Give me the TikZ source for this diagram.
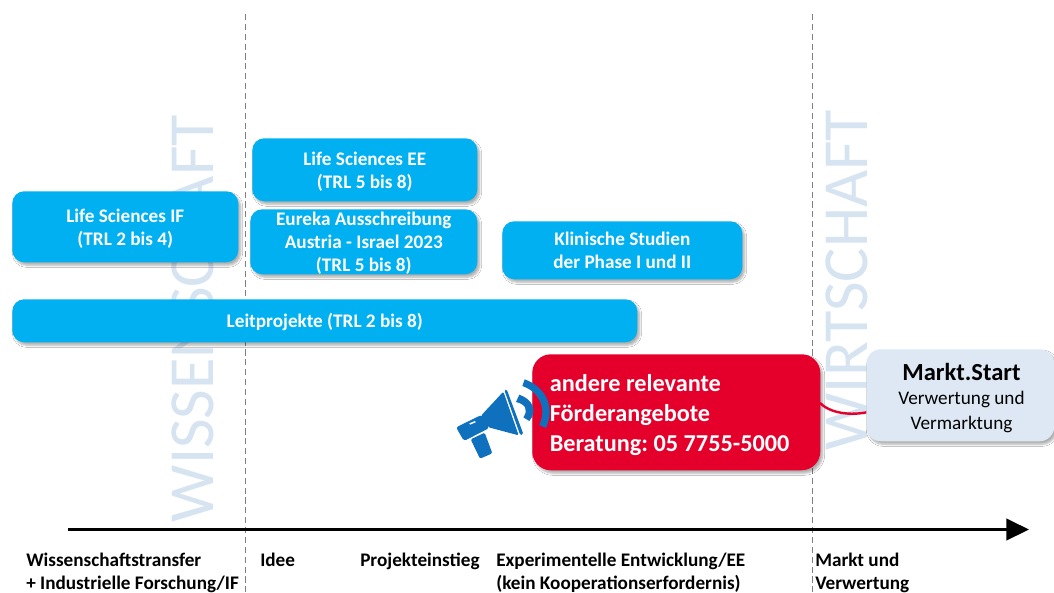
\documentclass[tikz,border=0pt]{standalone}
\usepackage{fontspec}
\setmainfont{Carlito}
\usetikzlibrary{shadows.blur,arrows.meta}
\definecolor{skyb}{HTML}{00B0F0}
\definecolor{redb}{HTML}{E4002B}
\definecolor{paleb}{HTML}{DEE8F4}
\definecolor{wm}{HTML}{D6E3F1}
\definecolor{mega}{HTML}{0F71BE}
\tikzset{
  x=0.75pt,y=-0.75pt,
  shad/.style={blur shadow={shadow xshift=1.7pt,shadow yshift=-2.2pt,shadow blur steps=6,shadow blur radius=1.6pt,shadow opacity=32}},
  bluebox/.style={shad,fill=skyb,rounded corners=9pt,inner sep=0pt,anchor=north west},
  bluetext/.style={inner sep=0pt,text=white,align=center,font=\fontsize{14.4pt}{17.3pt}\selectfont\bfseries},
  wmark/.style={text=wm,rotate=90,inner sep=0pt,font=\fontsize{48.2pt}{50pt}\selectfont},
  axlabel/.style={inner sep=0pt,anchor=west,align=left,font=\fontsize{14.4pt}{17.3pt}\selectfont\bfseries},
  guide/.style={draw=black!50,dash pattern=on 4.6pt off 2.8pt,line width=0.85pt},
}
\newcommand{\bbox}[7]{\node[bluebox,minimum width=#3*0.75pt,minimum height=#4*0.75pt] (#5) at (#1,#2) {};
  \node[bluetext,yshift=#7] (#5t) at (#5.center) {#6};}
\begin{document}
\frenchspacing
\begin{tikzpicture}
\useasboundingbox[fill=white] (0,0) rectangle (1054,593);
\node[wmark] (wiss) at (193,318.5) {WISSENSCHAFT};
\node[wmark] (wirt) at (847,280) {WIRTSCHAFT};
\coordinate (g1a) at (245.5,14); \coordinate (g1b) at (245.5,592);
\coordinate (g2a) at (812.5,14); \coordinate (g2b) at (812.5,592);
\draw[guide] (g1a) -- (g1b);
\draw[guide] (g2a) -- (g2b);
\coordinate (axa) at (68,529.5); \coordinate (axb) at (1029,529.5);
\draw[line width=2.6pt,-{Triangle[length=17pt,width=16pt]}] (axa) -- (axb);
\bbox{12}{191}{226}{71}{lsif}{Life Sciences IF\\(TRL 2 bis 4)}{-1.3pt}
\bbox{252}{138}{225}{63}{lsee}{Life Sciences EE\\(TRL 5 bis 8)}{-1.3pt}
\bbox{250}{209}{227}{65}{eur}{Eureka Ausschreibung\\Austria - Israel 2023\\(TRL 5 bis 8)}{-1.3pt}
\bbox{502}{221}{240}{58}{klin}{Klinische Studien\\der Phase I und II}{0pt}
\bbox{12}{299}{625}{43}{leit}{Leitprojekte (TRL 2 bis 8)}{-0.6pt}
\node[shad,fill=redb,rounded corners=14pt,minimum width=288*0.75pt,minimum height=116*0.75pt,anchor=north west,inner sep=0pt] (red) at (532,354) {};
\node[anchor=west,inner sep=0pt,text=white,align=left,font=\fontsize{18.2pt}{22.2pt}\selectfont\bfseries] (redt) at (549.5,415) {andere relevante\\Förderangebote\\Beratung: 05 7755-5000};
\coordinate (c1) at (820,403); \coordinate (c2) at (868,412);
\draw[redb,line width=1.8pt] (c1) .. controls (830,413) and (850,416) .. (c2);
\node[shad,fill=paleb,rounded corners=11pt,minimum width=188*0.75pt,minimum height=92*0.75pt,anchor=north west,inner sep=0pt] (mk) at (866,349) {};
\node[inner sep=0pt,align=center,font=\fontsize{14.4pt}{18.6pt}\selectfont] (mkt) at (961.5,398) {{\fontsize{18.4pt}{19pt}\selectfont\bfseries Markt.Start}\\Verwertung und\\Vermarktung};
% megaphone
\begin{scope}[fill=mega,shift={(440,340)},x=0.25pt,y=-0.25pt]
\fill[rounded corners=1pt] (124,226) -- (190,155) -- (236,286) -- (146,262) -- cycle;
\fill[rounded corners=1pt] (193,150) -- (200,148) -- (250,282) -- (241,286) -- cycle;
\fill[rounded corners=2pt] (48,262) -- (126,224) -- (148,264) -- (72,303) -- cycle;
\fill[rounded corners=1pt] (92,298) -- (134,278) -- (157,340) -- (120,356) -- cycle;
\fill (254,118) .. controls (312,138) and (348,195) .. (318,264) -- (298,255) .. controls (322,200) and (295,155) .. (247,138) -- cycle;
\fill (238,164) .. controls (278,178) and (294,212) .. (268,243) -- (250,232) .. controls (266,210) and (256,192) .. (228,186) -- cycle;
\fill[white] (88,250) -- (105,243) -- (107,247) -- (90,254) -- cycle;
\end{scope}
\node[axlabel] (l1) at (26,572.5) {Wissenschaftstransfer\\+ Industrielle Forschung/IF};
\node[axlabel,anchor=base west] (l2) at (260,566) {Idee};
\node[axlabel,anchor=base west] (l3) at (360,566.5) {Projekteinstieg};
\node[axlabel] (l4) at (496,573) {Experimentelle Entwicklung/EE\\(kein Kooperationserfordernis)};
\node[axlabel] (l5) at (815,573) {Markt und\\Verwertung};
\end{tikzpicture}
\end{document}
